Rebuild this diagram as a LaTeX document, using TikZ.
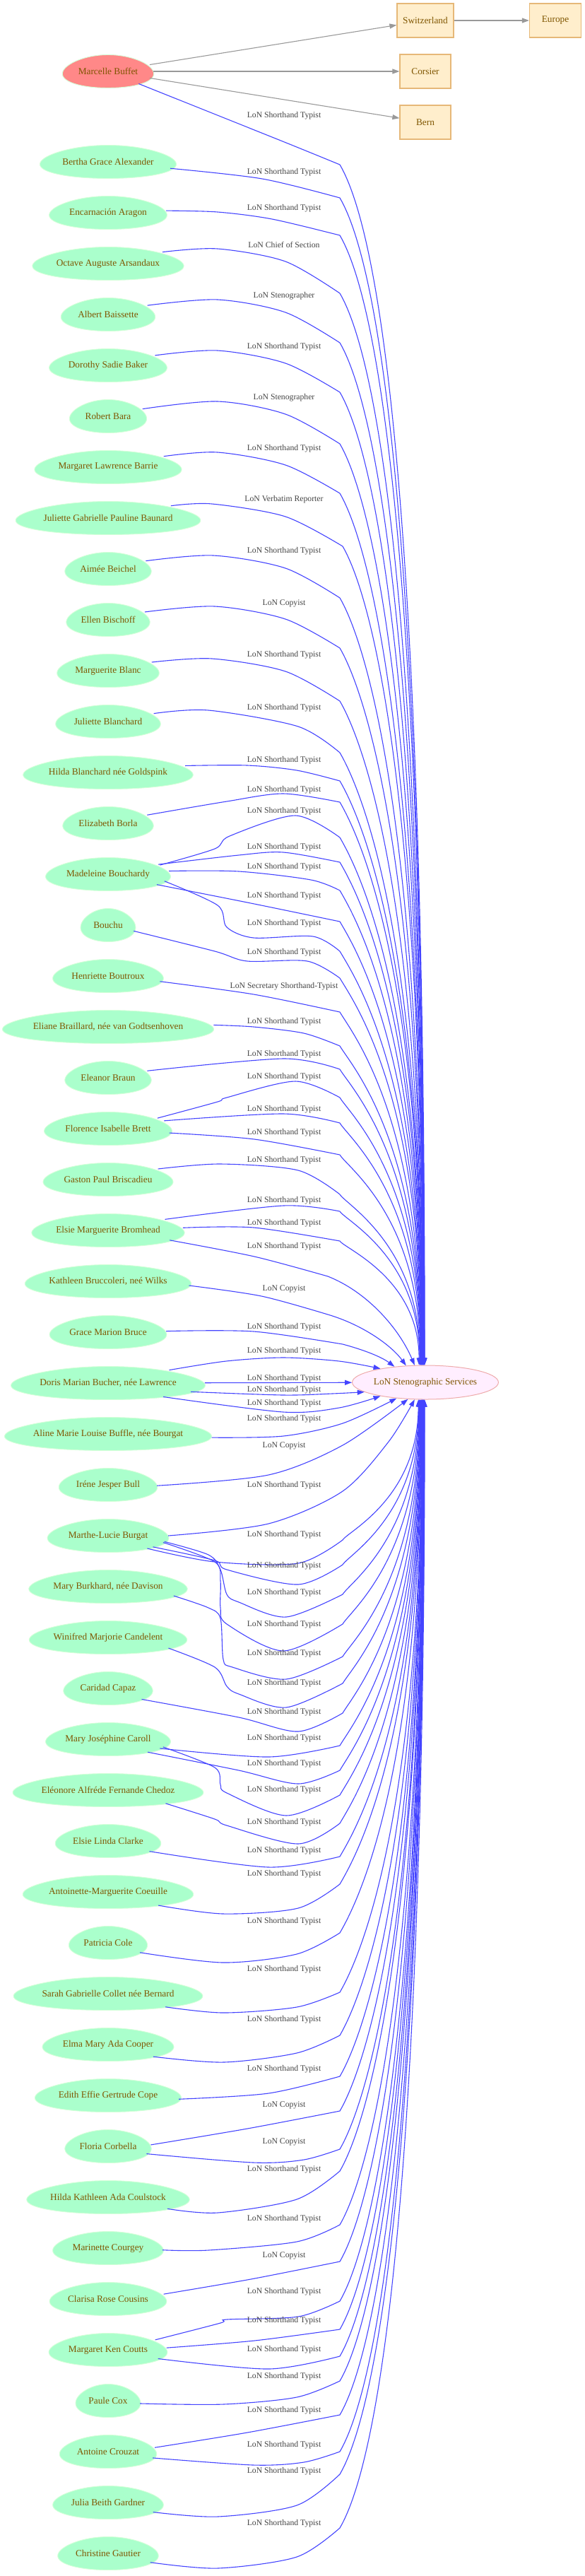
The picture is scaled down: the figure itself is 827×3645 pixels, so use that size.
\documentclass[tikz,border=0pt]{standalone}
\usepackage{fontspec}
\setmainfont{Liberation Serif}
\usetikzlibrary{arrows.meta,shapes.geometric}
\definecolor{mint}{HTML}{AAFFCC}
\definecolor{salmon}{HTML}{FF8888}
\definecolor{eggline}{HTML}{D4FFD8}
\definecolor{tbrown}{HTML}{7F5500}
\definecolor{boxfill}{HTML}{FFEECC}
\definecolor{boxline}{HTML}{E6B878}
\definecolor{lonfill}{HTML}{FFEEFF}
\definecolor{lonline}{HTML}{EEAAAA}
\definecolor{eblue}{HTML}{4444FF}
\definecolor{egrey}{HTML}{999999}
\definecolor{lgrey}{HTML}{444444}
\newcommand\person[5]{%
  \filldraw[fill=#5,draw=eggline,line width=0.9pt] plot[smooth cycle,variable=\t,samples=60,domain=0:354] ({153+#3/2*cos(\t)*(1-0.15*sin(\t))},{#2-23.5*sin(\t)});
  \node[ptext,minimum width=#3pt] (#1) at (153,#2) {#4};}
\newcommand\upe[5]{%
  \draw[eb] plot[smooth] coordinates {#1} .. controls +({0.035*(1932-#2)},{0.06*(1932-#2)}) and +(0,{-0.7*(1932-#2)}) .. (lon.#3) node[lbl] at (402,#4) {#5};}
\newcommand\loe[5]{%
  \draw[eb] plot[smooth] coordinates {#1} .. controls +({0.035*(#2-1980)},{-0.06*(#2-1980)}) and +(0,{0.7*(#2-1980)}) .. (lon.#3) node[lbl] at (402,#4) {#5};}
\begin{document}
\begin{tikzpicture}[x=1pt,y=-1pt,
  ptext/.style={ellipse,inner sep=0pt,minimum height=47pt,text=tbrown,font=\fontsize{13.3}{16}\selectfont},
  box/.style={rectangle,draw=boxline,fill=boxfill,line width=1.2pt,minimum height=48pt,inner sep=0pt,text=tbrown,font=\fontsize{13.3}{16}\selectfont},
  lonst/.style={ellipse,draw=lonline,fill=lonfill,line width=1pt,minimum width=197pt,minimum height=48pt,inner sep=0pt,text=tbrown,font=\fontsize{13.3}{16}\selectfont},
  eb/.style={draw=eblue,line width=1.1pt,-{Triangle[length=10pt,width=7pt]}},
  eg/.style={draw=egrey,line width=1.1pt,-{Triangle[length=10pt,width=7pt]}},
  lbl/.style={text=lgrey,inner sep=0pt,font=\fontsize{11.7}{13}\selectfont}]
\fill[white] (0,0) rectangle (827,3645);
\useasboundingbox (0,0) rectangle (827,3645);
% people
\person{p1}{101}{128}{Marcelle Buffet}{salmon}
\person{p2}{229}{191}{Bertha Grace Alexander}{mint}
\person{p3}{301}{165}{Encarnación Aragon}{mint}
\person{p4}{373}{212}{Octave Auguste Arsandaux}{mint}
\person{p5}{445}{132}{Albert Baissette}{mint}
\person{p6}{517}{165}{Dorothy Sadie Baker}{mint}
\person{p7}{589}{108}{Robert Bara}{mint}
\person{p8}{661}{206}{Margaret Lawrence Barrie}{mint}
\person{p9}{733}{259}{Juliette Gabrielle Pauline Baunard}{mint}
\person{p10}{805}{121}{Aimée Beichel}{mint}
\person{p11}{877}{117}{Ellen Bischoff}{mint}
\person{p12}{949}{143}{Marguerite Blanc}{mint}
\person{p13}{1021}{147}{Juliette Blanchard}{mint}
\person{p14}{1093}{238}{Hilda Blanchard née Goldspink}{mint}
\person{p15}{1165}{127}{Elizabeth Borla}{mint}
\person{p16}{1237}{175}{Madeleine Bouchardy}{mint}
\person{p17}{1309}{77}{Bouchu}{mint}
\person{p18}{1381}{155}{Henriette Boutroux}{mint}
\person{p19}{1453}{296}{Eliane Braillard, née van Godtsenhoven}{mint}
\person{p20}{1525}{121}{Eleanor Braun}{mint}
\person{p21}{1597}{179}{Florence Isabelle Brett}{mint}
\person{p22}{1669}{182}{Gaston Paul Briscadieu}{mint}
\person{p23}{1741}{214}{Elsie Marguerite Bromhead}{mint}
\person{p24}{1813}{233}{Kathleen Bruccoleri, neé Wilks}{mint}
\person{p25}{1885}{164}{Grace Marion Bruce}{mint}
\person{p26}{1957}{272}{Doris Marian Bucher, née Lawrence}{mint}
\person{p27}{2029}{290}{Aline Marie Louise Buffle, née Bourgat}{mint}
\person{p28}{2101}{138}{Iréne Jesper Bull}{mint}
\person{p29}{2173}{170}{Marthe-Lucie Burgat}{mint}
\person{p30}{2245}{222}{Mary Burkhard, née Davison}{mint}
\person{p31}{2317}{221}{Winifred Marjorie Candelent}{mint}
\person{p32}{2389}{125}{Caridad Capaz}{mint}
\person{p33}{2461}{175}{Mary Joséphine Caroll}{mint}
\person{p34}{2533}{267}{Eléonore Alfréde Fernande Chedoz}{mint}
\person{p35}{2605}{148}{Elsie Linda Clarke}{mint}
\person{p36}{2677}{239}{Antoinette-Marguerite Coeuille}{mint}
\person{p37}{2749}{110}{Patricia Cole}{mint}
\person{p38}{2821}{265}{Sarah Gabrielle Collet née Bernard}{mint}
\person{p39}{2893}{184}{Elma Mary Ada Cooper}{mint}
\person{p40}{2965}{205}{Edith Effie Gertrude Cope}{mint}
\person{p41}{3037}{121}{Floria Corbella}{mint}
\person{p42}{3109}{228}{Hilda Kathleen Ada Coulstock}{mint}
\person{p43}{3181}{155}{Marinette Courgey}{mint}
\person{p44}{3253}{164}{Clarisa Rose Cousins}{mint}
\person{p45}{3325}{166}{Margaret Ken Coutts}{mint}
\person{p46}{3397}{91}{Paule Cox}{mint}
\person{p47}{3469}{136}{Antoine Crouzat}{mint}
\person{p48}{3541}{155}{Julia Beith Gardner}{mint}
\person{p49}{3613}{141}{Christine Gautier}{mint}
% places and service
\node[box,minimum width=80pt] (swiss) at (602,29) {Switzerland};
\node[box,minimum width=73pt] (europe) at (786,29) {Europe};
\node[box,minimum width=72pt] (corsier) at (602,101) {Corsier};
\node[box,minimum width=72pt] (bern) at (602,173) {Bern};
\node[lonst] (lon) at (602,1956) {LoN Stenographic Services};
\draw[eg] (p1) -- (swiss);
\draw[eg] (p1) -- (corsier);
\draw[eg] (p1) -- (bern);
\draw[eg] (swiss) -- (europe);
% edges from above
\upe{(p1.-22) (400,200) (481,233)}{233}{92}{164}{LoN Shorthand Typist}
\upe{(p2.-6) (371,253) (481,280)}{280}{93}{244}{LoN Shorthand Typist}
\upe{(p3.2) (308,300) (385,310) (481,333)}{333}{93}{295}{LoN Shorthand Typist}
\upe{(p4.12) (308,352) (404,370) (481,415)}{415}{94}{346}{LoN Chief of Section}
\upe{(p5.13) (308,424) (404,442) (481,485)}{485}{94}{419}{LoN Stenographer}
\upe{(p6.12) (308,496) (404,514) (481,555)}{555}{95}{491}{LoN Shorthand Typist}
\upe{(p7.12) (308,568) (404,586) (481,628)}{628}{95}{563}{LoN Stenographer}
\upe{(p8.11) (308,640) (404,658) (481,698)}{698}{96}{635}{LoN Shorthand Typist}
\upe{(p9.11) (300,713) (404,731) (485,773)}{773}{96}{707}{LoN Verbatim Reporter}
\upe{(p10.12) (302,786) (404,804) (481,846)}{846}{97}{780}{LoN Shorthand Typist}
\upe{(p11.12) (304,858) (404,876) (481,917)}{917}{97}{854}{LoN Copyist}
\upe{(p12.11) (300,932) (404,950) (481,992)}{992}{98}{927}{LoN Shorthand Typist}
\upe{(p13.10) (295,1005) (422,1028) (481,1065)}{1065}{98}{1002}{LoN Shorthand Typist}
\upe{(p14.5) (350,1083) (420,1090) (481,1105)}{1105}{99}{1076}{LoN Shorthand Typist}
\upe{(p15.12) (321,1134) (401,1123) (481,1135)}{1135}{99}{1118}{LoN Shorthand Typist}
\upe{(p16.10) (304,1201) (325,1183) (418,1154) (481,1185)}{1185}{100}{1148}{LoN Shorthand Typist}
\upe{(p16.11) (338,1210) (401,1206) (481,1220)}{1220}{100}{1199}{LoN Shorthand Typist}
\upe{(p16.3) (338,1233) (440,1245) (481,1260)}{1260}{101}{1227}{LoN Shorthand Typist}
\upe{(p16.-12) (355,1278) (481,1304)}{1304}{101}{1268}{LoN Shorthand Typist}
\upe{(p16.-7) (308,1281) (321,1312) (359,1327) (443,1325) (481,1346)}{1346}{102}{1307}{LoN Shorthand Typist}
\upe{(p17.-13) (304,1346) (350,1360) (435,1360) (481,1384)}{1384}{102}{1348}{LoN Shorthand Typist}
\upe{(p18.-6) (359,1407) (481,1432)}{1432}{103}{1396}{LoN Secretary Shorthand-Typist}
\upe{(p19.1) (359,1453) (430,1462) (481,1480)}{1480}{103}{1446}{LoN Shorthand Typist}
\upe{(p20.10) (401,1498) (481,1513)}{1513}{104}{1492}{LoN Shorthand Typist}
\upe{(p21.12) (308,1559) (321,1553) (418,1530) (481,1553)}{1553}{104}{1524}{LoN Shorthand Typist}
\upe{(p21.8) (401,1576) (481,1589)}{1589}{105}{1570}{LoN Shorthand Typist}
\upe{(p21.-4) (360,1612) (481,1634)}{1634}{106}{1603}{LoN Shorthand Typist}
\upe{(p22.12) (312,1647) (422,1656) (481,1690)}{1690}{107}{1642}{LoN Shorthand Typist}
\upe{(p23.11) (401,1706) (481,1714)}{1714}{108}{1699}{LoN Shorthand Typist}
\upe{(p23.2) (359,1737) (481,1756)}{1756}{110}{1731}{LoN Shorthand Typist}
\draw[eb] plot[smooth] coordinates {(p23.-9) (360,1778) (464,1806)} .. controls (520,1828) and (565,1880) .. (lon.122) node[lbl] at (402,1764) {LoN Shorthand Typist};
\draw[eb] plot[smooth] coordinates {(p24.-3) (370,1834) (464,1860)} .. controls (515,1875) and (555,1905) .. (lon.139) node[lbl] at (402,1824) {LoN Copyist};
\draw[eb] plot[smooth] coordinates {(p25.1) (359,1884) (485,1902)} .. controls (515,1910) and (540,1920) .. (lon.153) node[lbl] at (402,1878) {LoN Shorthand Typist};
\draw[eb] plot[smooth] coordinates {(p26.12) (320,1926) (401,1921) (480,1926) (lon.163)} node[lbl] at (402,1912) {LoN Shorthand Typist};
% edges from below
\draw[eb] (p26) -- (lon) node[lbl] at (402,1951) {LoN Shorthand Typist};
\draw[eb] plot[smooth] coordinates {(p26.-6) (401,1974) (470,1972) (lon.-171)} node[lbl] at (402,1967) {LoN Shorthand Typist};
\draw[eb] plot[smooth] coordinates {(p26.-14) (401,1998) (480,1992) (lon.-163)} node[lbl] at (402,1986) {LoN Shorthand Typist};
\draw[eb] plot[smooth] coordinates {(p27.-2) (401,2032) (485,2014) (lon.-151)} node[lbl] at (402,2008) {LoN Shorthand Typist};
\draw[eb] plot[smooth] coordinates {(p28.-1) (380,2087) (485,2045) (lon.-136)} node[lbl] at (402,2046) {LoN Copyist};
\draw[eb] plot[smooth] coordinates {(p29.0) (380,2156) (485,2110) (550,2040) (lon.-122)} node[lbl] at (402,2102) {LoN Shorthand Typist};
\loe{(p29.-18) (304,2210) (422,2212) (485,2179)}{2179}{-112}{2172}{LoN Shorthand Typist}
\loe{(p29.-14) (304,2208) (321,2221) (422,2242) (485,2214)}{2214}{-111}{2216}{LoN Shorthand Typist}
\loe{(p29.-6) (295,2200) (312,2221) (321,2256) (338,2267) (405,2288) (485,2256)}{2256}{-110}{2254}{LoN Shorthand Typist}
\loe{(p29.-7) (304,2210) (312,2237) (312,2275) (321,2298) (401,2336) (485,2298)}{2298}{-109}{2299}{LoN Shorthand Typist}
\loe{(p30.-8) (295,2275) (312,2290) (316,2348) (329,2359) (405,2376) (485,2344)}{2344}{-108}{2340}{LoN Shorthand Typist}
\loe{(p31.-10) (304,2359) (321,2386) (338,2397) (405,2416) (485,2382)}{2382}{-107}{2382}{LoN Shorthand Typist}
\loe{(p32.-18) (338,2430) (422,2450) (485,2424)}{2424}{-106}{2423}{LoN Shorthand Typist}
\loe{(p33.-10) (380,2486) (481,2470)}{2470}{-105}{2460}{LoN Shorthand Typist}
\loe{(p33.-18) (338,2505) (422,2524) (481,2505)}{2505}{-104}{2496}{LoN Shorthand Typist}
\loe{(p33.-8) (304,2501) (312,2525) (321,2537) (405,2569) (481,2540)}{2540}{-103}{2533}{LoN Shorthand Typist}
\loe{(p34.-13) (304,2574) (321,2583) (422,2609) (481,2580)}{2580}{-102}{2579}{LoN Shorthand Typist}
\loe{(p35.-14) (380,2642) (481,2627)}{2627}{-102}{2619}{LoN Shorthand Typist}
\loe{(p36.-15) (316,2708) (422,2700) (481,2666)}{2666}{-101}{2652}{LoN Shorthand Typist}
\loe{(p37.-17) (316,2777) (420,2765) (481,2735)}{2735}{-101}{2719}{LoN Shorthand Typist}
\loe{(p38.-13) (316,2848) (420,2840) (481,2819)}{2819}{-100}{2787}{LoN Shorthand Typist}
\loe{(p39.-15) (316,2918) (420,2905) (481,2880)}{2880}{-100}{2858}{LoN Shorthand Typist}
\loe{(p40.-3) (380,2962) (481,2938)}{2938}{-99}{2928}{LoN Shorthand Typist}
\loe{(p41.2) (350,3012) (481,2987)}{2987}{-99}{2979}{LoN Copyist}
\loe{(p41.-11) (359,3060) (430,3056) (481,3041)}{3041}{-98}{3031}{LoN Copyist}
\loe{(p42.-11) (308,3131) (420,3112) (481,3072)}{3072}{-98}{3070}{LoN Shorthand Typist}
\loe{(p43.-2) (295,3184) (420,3172) (481,3148)}{3148}{-97}{3140}{LoN Shorthand Typist}
\loe{(p44.5) (355,3225) (481,3200)}{3200}{-97}{3192}{LoN Copyist}
\loe{(p45.12) (312,3287) (321,3282) (422,3278) (481,3256)}{3256}{-96}{3243}{LoN Shorthand Typist}
\loe{(p45.2) (360,3312) (481,3296)}{3296}{-96}{3284}{LoN Shorthand Typist}
\loe{(p45.-10) (380,3352) (481,3334)}{3334}{-95}{3325}{LoN Shorthand Typist}
\loe{(p46.-5) (316,3402) (420,3392) (481,3369)}{3369}{-95}{3363}{LoN Shorthand Typist}
\loe{(p47.5) (350,3442) (481,3417)}{3417}{-94}{3411}{LoN Shorthand Typist}
\loe{(p47.-8) (359,3488) (430,3484) (481,3469)}{3469}{-94}{3460}{LoN Shorthand Typist}
\loe{(p48.-12) (308,3561) (420,3545) (481,3501)}{3501}{-93}{3497}{LoN Shorthand Typist}
\loe{(p49.-12) (308,3634) (420,3618) (481,3577)}{3577}{-92}{3571}{LoN Shorthand Typist}
\end{tikzpicture}
\end{document}
